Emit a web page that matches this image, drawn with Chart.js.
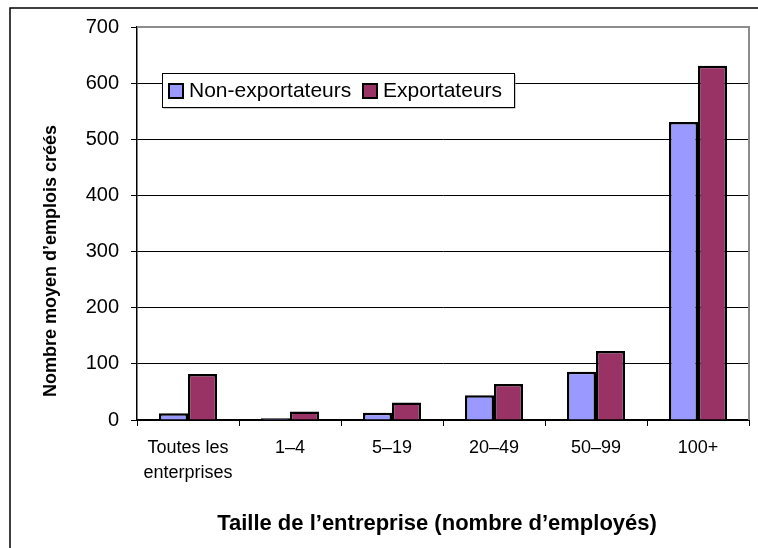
<!DOCTYPE html>
<html>
<head>
<meta charset="utf-8">
<script src="https://cdn.jsdelivr.net/npm/chart.js@4"></script>
<style>
  html, body { margin: 0; padding: 0; background: #fff; }
  #wrap { width: 758px; height: 548px; position: relative; }
</style>
</head>
<body>
<div id="wrap"><canvas id="myChart" width="758" height="548"></canvas></div>
<script>
// data
var categories = [['Toutes les', 'enterprises'], '1\u20134', '5\u201319', '20\u201349', '50\u201399', '100+'];
var nonExportateurs = [12, 3, 13, 44, 86, 531];
var exportateurs = [82, 15, 31, 64, 123, 631];
var seriesNames = ['Non-exportateurs', 'Exportateurs'];
var yTicks = [0, 100, 200, 300, 400, 500, 600, 700];
var xTitle = 'Taille de l\u2019entreprise (nombre d\u2019employ\u00e9s)';
var yTitle = 'Nombre moyen d\u2019emplois cr\u00e9\u00e9s';

var FONT = '"Liberation Sans", Arial, sans-serif';

// frame, plot border, axis titles and the boxed legend inside the plot
var decorPlugin = {
  id: 'decor',
  beforeDraw: function (chart) {
    var ctx = chart.ctx;
    ctx.save();
    ctx.fillStyle = '#fff';
    ctx.fillRect(0, 0, chart.width, chart.height);
    ctx.strokeStyle = '#000';
    ctx.lineWidth = 1.5;
    ctx.strokeRect(10, 8, chart.width + 20, chart.height + 20);
    ctx.restore();
  },
  afterDatasetsDraw: function (chart) {
    var ctx = chart.ctx;
    var a = chart.chartArea;
    ctx.save();
    // grey plot border right side
    ctx.strokeStyle = '#8c8c8c';
    ctx.lineWidth = 2;
    ctx.beginPath();
    ctx.moveTo(a.left, a.top);
    ctx.lineTo(a.right, a.top);
    ctx.lineTo(a.right, a.bottom);
    ctx.stroke();

    // legend
    var lx = 162, ly = 73, lw = 352, lh = 34;
    ctx.fillStyle = '#9a9a9a';
    ctx.fillRect(lx + 1.5, ly + 1.5, lw, lh);
    ctx.fillStyle = '#fff';
    ctx.fillRect(lx, ly, lw, lh);
    ctx.strokeStyle = '#000';
    ctx.lineWidth = 1;
    ctx.strokeRect(lx + 0.5, ly + 0.5, lw, lh);
    ctx.font = '21px ' + FONT;
    ctx.textBaseline = 'middle';
    var itemX = [169, 363];
    chart.data.datasets.forEach(function (ds, i) {
      ctx.fillStyle = ds.backgroundColor;
      ctx.fillRect(itemX[i], 84, 14, 14);
      ctx.strokeStyle = '#000';
      ctx.lineWidth = 2;
      ctx.strokeRect(itemX[i], 84, 14, 14);
      ctx.fillStyle = '#000';
      ctx.fillText(ds.label, itemX[i] + 20, 91);
    });

    // axis titles
    ctx.fillStyle = '#000';
    ctx.textAlign = 'center';
    ctx.font = 'bold 22px ' + FONT;
    ctx.fillText(xTitle, 437, 524);
    ctx.translate(51, 261);
    ctx.rotate(-Math.PI / 2);
    ctx.font = 'bold 18px ' + FONT;
    ctx.fillText(yTitle, 0, 0);
    ctx.restore();
  }
};

var ctx = document.getElementById('myChart');
new Chart(ctx, {
  type: 'bar',
  data: {
    labels: categories,
    datasets: [
      {
        label: seriesNames[0],
        data: nonExportateurs,
        backgroundColor: '#9999FF',
        borderColor: '#000',
        borderWidth: 2.5,
        categoryPercentage: 0.57,
        barPercentage: 1.0
      },
      {
        label: seriesNames[1],
        data: exportateurs,
        backgroundColor: '#993366',
        borderColor: '#000',
        borderWidth: 2.5,
        categoryPercentage: 0.57,
        barPercentage: 1.0
      }
    ]
  },
  options: {
    responsive: false,
    animation: false,
    devicePixelRatio: 1,
    layout: { padding: { left: 0, right: 9, top: 27, bottom: 0 } },
    plugins: {
      legend: { display: false },
      tooltip: { enabled: false },
      title: { display: false }
    },
    scales: {
      x: {
        afterFit: function (scale) { scale.height = 128; },
        grid: {
          drawOnChartArea: false,
          drawTicks: true,
          tickLength: 6,
          tickColor: '#000',
          offset: true
        },
        border: { color: '#000', width: 2 },
        ticks: {
          color: '#000',
          padding: 10,
          maxRotation: 0,
          font: { family: FONT, size: 18, lineHeight: 25 / 18 }
        }
      },
      y: {
        min: 0,
        max: 700,
        afterFit: function (scale) { scale.width = 137; },
        afterBuildTicks: function (scale) {
          scale.ticks = yTicks.map(function (v) { return { value: v }; });
        },
        grid: {
          color: function (c) { return c.tick && c.tick.value === 700 ? '#8c8c8c' : '#000'; },
          lineWidth: 1,
          tickLength: 6,
          tickColor: '#000'
        },
        border: { color: '#000', width: 1.5 },
        ticks: {
          color: '#000',
          padding: 12,
          font: { family: FONT, size: 20 }
        }
      }
    }
  },
  plugins: [decorPlugin]
});
</script>
</body>
</html>
